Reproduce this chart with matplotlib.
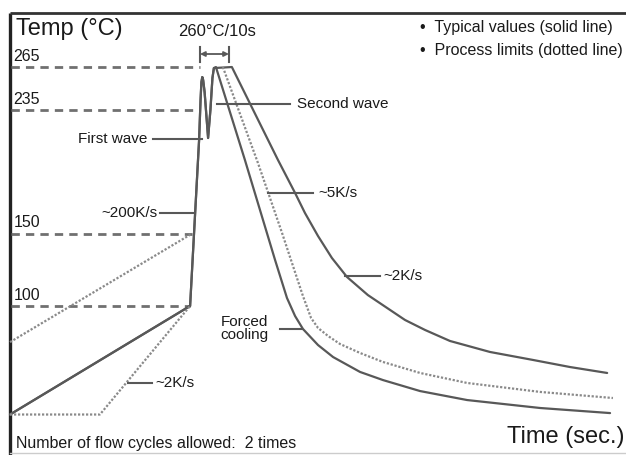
import matplotlib
matplotlib.use('Agg')
import matplotlib.pyplot as plt

plt.rcParams['font.family'] = ['Liberation Sans', 'DejaVu Sans']

# Perfil tipico (linea solida): precalentamiento, rampa ~200K/s y dos olas
perfil_t = [0, 62.1, 65.2, 65.7, 66.0, 66.3, 66.6, 67.1, 68.3, 69.1, 69.8, 70.3]
perfil_T = [25, 100, 214.6, 242.2, 254.6, 258.1, 256.0, 247.7, 216.0, 235.3, 257.4, 264.3]

# Enfriamiento forzado (rapido)
rapido_t = [71.0, 81.0, 91.4, 95.5, 98.3, 101.0, 106.2, 111.4, 120.7, 128.6,
            141.4, 157.6, 182.8, 206.9]
rapido_T = [265, 200.8, 131.7, 105.5, 93.0, 84.1, 73.0, 64.7, 54.4, 48.8,
            41.2, 35.0, 29.5, 26.0]

# Enfriamiento lento (~5K/s -> ~2K/s)
lento_t = [76.5, 92.4, 98.3, 101.7, 106.2, 111.0, 116.2, 123.4, 136.2, 143.1,
           151.7, 165.5, 180.3, 193.1, 205.9]
lento_T = [265, 200.8, 178.0, 164.2, 148.3, 133.1, 120.0, 107.5, 90.3, 83.4,
           75.8, 68.2, 62.7, 57.8, 53.7]

# Limites de proceso (linea punteada)
lim_sup_t = [0, 62.8]
lim_sup_T = [75, 150]
lim_inf_t = [0, 31.0, 62.1]
lim_inf_T = [25, 25, 100]
lim_enf_t = [73.4, 85.5, 93.8, 101.0, 103.8, 106.2, 109.7, 113.8, 120.7, 128.6,
             141.4, 157.6, 182.8, 207.9]
lim_enf_T = [265, 198.7, 150.4, 106.9, 91.7, 84.8, 79.2, 73.7, 67.5, 61.3,
             53.7, 46.8, 40.6, 36.4]

# Niveles de referencia (lineas discontinuas) y donde tocan la rampa
niveles = [265, 235, 150, 100]
niveles_fin = [65.5, 65.5, 62.8, 62.1]
niveles_txt = ['265', '235', '150', '100']

gris = '#585858'
texto = '#1a1a1a'

fig = plt.figure(figsize=(6.26, 4.55), dpi=100)
ax = fig.add_axes([0, 0, 1, 1])
ax.set_xlim(-3.45, 212.4)
ax.set_ylim(-2.96, 311.3)
ax.axis('off')

# Marco
ax.plot([0, 0], [-3, 302.3], color='#222222', lw=2.4, solid_capstyle='butt')
ax.plot([0, 212.4], [302.3, 302.3], color='#333333', lw=2.0, solid_capstyle='butt')
ax.plot([0, 212.4], [-1.6, -1.6], color='#cccccc', lw=1.0)

# Lineas discontinuas de nivel
for nivel, fin, etiqueta in zip(niveles, niveles_fin, niveles_txt):
    ax.plot([0.3, fin], [nivel, nivel], color='#707070', lw=2.0,
            linestyle=(0, (3, 2.2)))
    ax.text(1.2, nivel + 7.5, etiqueta, fontsize=11.5, color=texto,
            ha='left', va='center')

# Curvas
kw_sol = dict(color=gris, lw=1.6, solid_joinstyle='round', solid_capstyle='round')
kw_pun = dict(color='#8a8a8a', lw=1.6, linestyle=(0, (1, 0.8)))
ax.plot(perfil_t + rapido_t, perfil_T + rapido_T, **kw_sol)
ax.plot(perfil_t + lento_t, perfil_T + lento_T, **kw_sol)
ax.plot(lim_sup_t, lim_sup_T, **kw_pun)
ax.plot(lim_inf_t, lim_inf_T, **kw_pun)
ax.plot(lim_enf_t, lim_enf_T, **kw_pun)

# Anotaciones con linea indicadora
kw_ind = dict(color=gris, lw=1.5)
ax.plot([49.3, 66.2], [215.3, 215.3], **kw_ind)
ax.text(47.2, 215.3, 'First wave', fontsize=11, color=texto, ha='right', va='center')
ax.plot([71.4, 96.6], [239.4, 239.4], **kw_ind)
ax.text(99.0, 239.4, 'Second wave', fontsize=11, color=texto, ha='left', va='center')
ax.plot([51.7, 63.4], [164.2, 164.2], **kw_ind)
ax.text(50.7, 164.2, '~200K/s', fontsize=11, color=texto, ha='right', va='center')
ax.plot([40.7, 49.0], [46.8, 46.8], **kw_ind)
ax.text(50.0, 46.8, '~2K/s', fontsize=11, color=texto, ha='left', va='center')
ax.plot([89.0, 104.5], [178.0, 178.0], **kw_ind)
ax.text(106.2, 178.0, '~5K/s', fontsize=11, color=texto, ha='left', va='center')
ax.plot([115.5, 127.6], [120.7, 120.7], **kw_ind)
ax.text(128.6, 120.7, '~2K/s', fontsize=11, color=texto, ha='left', va='center')
ax.plot([93.1, 100.7], [84.1, 84.1], **kw_ind)
ax.text(80.7, 84.5, 'Forced\ncooling', fontsize=11, color=texto, ha='center',
        va='center', linespacing=0.95)

# Ventana 260C/10s
ax.plot([65.5, 65.5], [268.7, 278.8], color=gris, lw=1.5)
ax.plot([75.5, 75.5], [268.7, 278.8], color=gris, lw=1.5)
ax.annotate('', xy=(65.5, 274), xytext=(75.5, 274),
            arrowprops=dict(arrowstyle='<|-|>', color=gris, lw=1.3,
                            mutation_scale=7, shrinkA=0, shrinkB=0))
ax.text(71.4, 289.4, '260°C/10s', fontsize=12, color=texto, ha='center', va='center')

# Textos de ejes y leyenda
ax.text(2.1, 291.2, 'Temp (°C)', fontsize=17, color=texto, ha='left', va='center')
ax.text(211.9, 9.5, 'Time (sec.)', fontsize=17, color=texto, ha='right', va='center')
ax.text(2.1, 5.3, 'Number of flow cycles allowed:  2 times', fontsize=11.5,
        color=texto, ha='left', va='center')
ax.text(141.4, 292.6, '•  Typical values (solid line)', fontsize=11.5, color=texto,
        ha='left', va='center')
ax.text(141.4, 276.7, '•  Process limits (dotted line)', fontsize=11.5, color=texto,
        ha='left', va='center')

fig.savefig('out.png', dpi=100, facecolor='white')
